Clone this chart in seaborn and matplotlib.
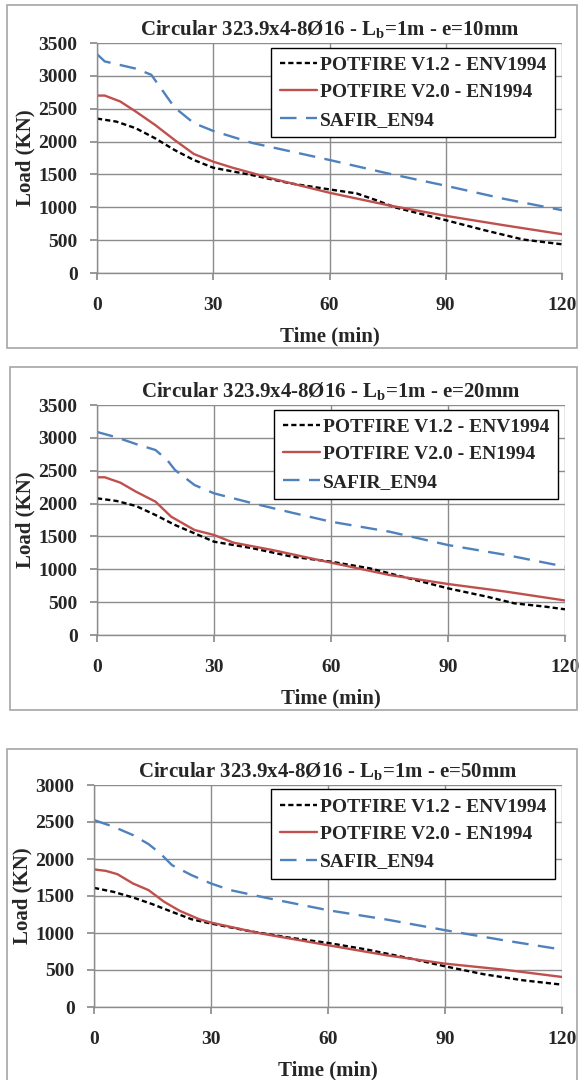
import numpy as np
import pandas as pd
import seaborn as sns
import matplotlib.pyplot as plt
from matplotlib.patches import Rectangle

sns.set_theme(style="white")
plt.rcParams['font.family'] = ['Liberation Serif', 'DejaVu Serif']
plt.rcParams['font.weight'] = 'bold'
plt.rcParams['mathtext.fontset'] = 'custom'
plt.rcParams['mathtext.rm'] = 'Liberation Serif:bold'
plt.rcParams['mathtext.it'] = 'Liberation Serif:bold'

# ---- data (time in min, load in kN) ----
titles = ["e=10mm", "e=20mm", "e=50mm"]
labels = ["POTFIRE V1.2 - ENV1994", "POTFIRE V2.0 - EN1994", "SAFIR_EN94"]
y_max = [3500, 3500, 3000]

# e = 10 mm
t_v12_10 = [0, 5, 10, 15, 20, 25, 30, 40, 50, 60, 67, 72, 77, 90, 100, 110, 120]
v12_10 = [2350, 2304, 2203, 2050, 1872, 1719, 1602, 1490, 1363, 1272, 1211, 1109, 997, 804, 651, 509, 437]
t_v20_10 = [0, 2, 6, 10, 15, 20, 25, 30, 35, 45, 60, 75, 90, 105, 120]
v20_10 = [2700, 2700, 2610, 2457, 2253, 2025, 1811, 1694, 1602, 1440, 1221, 1033, 870, 727, 590]
t_saf_10 = [0, 2, 10, 14, 20, 25, 30, 40, 60, 75, 90, 105, 120]
saf_10 = [3330, 3220, 3110, 3017, 2520, 2280, 2162, 1980, 1720, 1516, 1328, 1129, 956]

# e = 20 mm
t_v12_20 = [0, 5, 10, 15, 20, 25, 30, 40, 50, 60, 70, 80, 90, 100, 107, 115, 120]
v12_20 = [2080, 2040, 1963, 1826, 1674, 1547, 1420, 1319, 1192, 1116, 1014, 862, 710, 583, 482, 431, 391]
t_v20_20 = [0, 2, 6, 10, 15, 19, 25, 30, 35, 45, 60, 75, 90, 105, 120]
v20_20 = [2400, 2400, 2318, 2181, 2029, 1801, 1598, 1522, 1405, 1293, 1101, 913, 776, 659, 525]
t_saf_20 = [0, 5, 10, 15, 18, 20, 25, 30, 40, 50, 60, 75, 90, 105, 120]
saf_20 = [3090, 3008, 2906, 2815, 2663, 2511, 2282, 2156, 2003, 1861, 1724, 1572, 1369, 1217, 1040]

# e = 50 mm
t_v12_50 = [0, 5, 10, 15, 20, 25, 30, 40, 50, 60, 70, 80, 90, 100, 110, 120]
v12_50 = [1610, 1556, 1480, 1389, 1286, 1186, 1128, 1024, 938, 866, 776, 668, 550, 442, 361, 302]
t_v20_50 = [0, 3, 6, 10, 14, 18, 22, 27, 30, 35, 43, 60, 75, 90, 105, 120]
v20_50 = [1859, 1840, 1795, 1669, 1579, 1421, 1299, 1186, 1141, 1083, 992, 835, 699, 586, 505, 406]
t_saf_50 = [0, 5, 10, 14, 17, 20, 25, 30, 35, 45, 60, 75, 90, 105, 120]
saf_50 = [2526, 2436, 2323, 2201, 2075, 1917, 1782, 1669, 1579, 1466, 1308, 1182, 1038, 902, 776]

series = [
    [(t_v12_10, v12_10), (t_v20_10, v20_10), (t_saf_10, saf_10)],
    [(t_v12_20, v12_20), (t_v20_20, v20_20), (t_saf_20, saf_20)],
    [(t_v12_50, v12_50), (t_v20_50, v20_50), (t_saf_50, saf_50)],
]

colors = ["black", "#C0504D", "#4F81BD"]
styles = [(0, (2.2, 1.3)), "-", (0, (7, 4))]

W, H = 579, 1080
fig = plt.figure(figsize=(W / 100, H / 100), dpi=100)

# axes boxes in pixels: left, right, top, bottom
boxes = [(97, 562, 43, 273), (97, 565, 405, 635), (94, 562, 785, 1007)]
frames = [(7, 577, 5, 348), (10, 577, 367, 710), (7, 577, 749, 1090)]
grid_col = "#8C8C8C"

for i in range(3):
    fl, fr, ft, fb = frames[i]
    fig.patches.append(Rectangle((fl / W, 1 - fb / H), (fr - fl) / W, (fb - ft) / H,
                                 transform=fig.transFigure, fill=False,
                                 edgecolor="#A6A6A6", lw=1.2))
    l, r, t, b = boxes[i]
    ax = fig.add_axes([l / W, 1 - b / H, (r - l) / W, (b - t) / H])
    for j in range(3):
        tt, vv = series[i][j]
        df = pd.DataFrame({"Time": tt, "Load": vv})
        sns.lineplot(data=df, x="Time", y="Load", ax=ax, color=colors[j],
                     linestyle=styles[j], lw=1.7, label=labels[j])
    ax.set_xlim(0, 120)
    ax.set_ylim(0, y_max[i])
    ax.set_xticks([0, 30, 60, 90, 120])
    ax.set_yticks(np.arange(0, y_max[i] + 1, 500))
    ax.grid(True, color=grid_col, lw=1.0)
    for s in ["top", "right"]:
        ax.spines[s].set_visible(False)
    for s in ["left", "bottom"]:
        ax.spines[s].set_color(grid_col)
        ax.spines[s].set_linewidth(1.0)
    ax.tick_params(axis="x", length=5, color=grid_col, pad=12, labelsize=14)
    ax.tick_params(axis="y", length=5, color=grid_col, pad=9, labelsize=14)
    ax.tick_params(left=True, bottom=True)
    ax.set_xlabel("Time (min)", fontsize=15, fontweight="bold", labelpad=9)
    ax.set_ylabel("Load (KN)", fontsize=15, fontweight="bold", labelpad=2)
    ax.set_title(r"Circular 323.9x4-8Ø16 - $\mathrm{L_b}$=1m - " + titles[i],
                 fontsize=15, fontweight="bold", pad=6)
    leg = ax.legend(loc="upper right", bbox_to_anchor=(0.985, 0.98), fontsize=14,
                    frameon=True, fancybox=False, framealpha=1, edgecolor="black",
                    handlelength=1.9, handletextpad=0.15, labelspacing=0.5,
                    borderpad=0.45, borderaxespad=0)
    leg.get_frame().set_linewidth(1.0)

fig.savefig("out.png", dpi=100)
